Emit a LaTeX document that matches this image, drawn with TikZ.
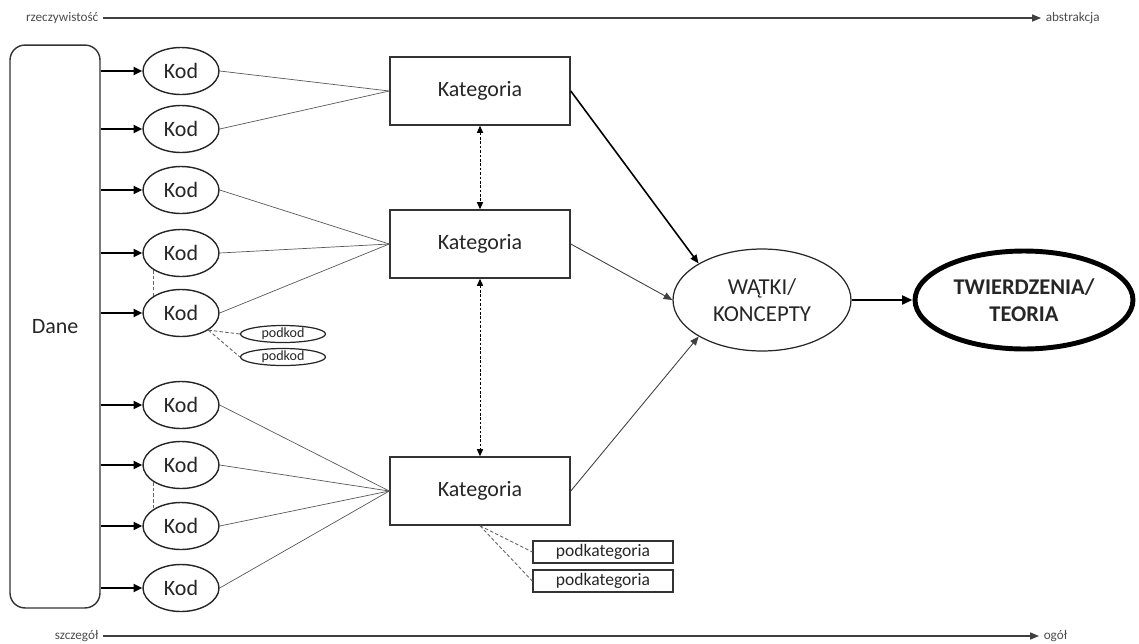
\documentclass[tikz,border=0pt]{standalone}
\usepackage{fontspec}
\setmainfont{Carlito}
\usetikzlibrary{arrows.meta,shapes.geometric}

\begin{document}
\begin{tikzpicture}
        [x=0.02cm,y=-0.02cm,
        every node/.style={inner sep=0pt,align=center,text=black!85,font=\fontsize{12.5}{14}\selectfont},
        dane-box/.style={draw=black!80,line width=0.8pt,rounded corners=0.3cm,minimum width=1.8cm,minimum height=11.26cm},
        kod-ellipse/.style={ellipse,draw=black!85,line width=0.8pt,minimum width=1.52cm,minimum height=0.94cm},
        podkod-ellipse/.style={ellipse,draw=black!85,line width=0.7pt,minimum width=1.7cm,minimum height=0.34cm,font=\fontsize{8}{9}\selectfont},
        kat-box/.style={rectangle,draw=black!80,line width=0.9pt,minimum width=3.6cm,minimum height=1.36cm},
        podkat-box/.style={rectangle,draw=black!80,line width=0.8pt,minimum width=2.8cm,minimum height=0.44cm,font=\fontsize{10}{11}\selectfont},
        watki-ellipse/.style={ellipse,draw=black!85,line width=0.7pt,minimum width=3.56cm,minimum height=2.04cm,font=\fontsize{13}{15.5}\selectfont},
        teoria-ellipse/.style={ellipse,draw=black,line width=2.8pt,minimum width=4.36cm,minimum height=1.96cm,font=\fontsize{12.8}{15.5}\selectfont\bfseries},
        axis-label/.style={inner sep=2.5pt,font=\fontsize{7.5}{8}\selectfont,text=black!70},
        axis-line/.style={line width=0.6pt,black!75,-{Triangle[length=5pt,width=4pt]}},
        data-arrow/.style={line width=1.3pt,-{Triangle[length=5pt,width=4.5pt]}},
        code-line/.style={line width=0.4pt,black!65},
        sub-line/.style={dash pattern=on 2pt off 1.2pt,line width=0.5pt,black!60},
        kat-link/.style={dash pattern=on 1.5pt off 1pt,line width=0.5pt,{Triangle[length=4pt,width=3.5pt]}-{Triangle[length=4pt,width=3.5pt]}},
        theme-arrow/.style={line width=0.5pt,black!75,-{Triangle[length=5pt,width=4pt]}},
        main-arrow/.style={line width=1.6pt,-{Triangle[length=6pt,width=5pt]}}
        ]
        \useasboundingbox (0,0) rectangle (1139,643);
        \node[axis-label,anchor=east] (real) at (103,18) {rzeczywistość};
        \node[axis-label,anchor=west] (abstr) at (1041,18) {abstrakcja};
        \node[axis-label,anchor=east] (detail) at (103,636) {szczegół};
        \node[axis-label,anchor=west] (general) at (1039,636) {ogół};
        \draw[axis-line] (real.east) -- (abstr.west);
        \draw[axis-line] (detail.east) -- (general.west);
        \node[dane-box] (dane) at (55,326.5) {Dane};
        \node[kod-ellipse] (kod-1) at (181,71) {Kod};
        \node[kod-ellipse] (kod-2) at (181,129) {Kod};
        \node[kod-ellipse] (kod-3) at (181,190) {Kod};
        \node[kod-ellipse] (kod-4) at (181,253) {Kod};
        \node[kod-ellipse] (kod-5) at (181,313) {Kod};
        \node[kod-ellipse] (kod-6) at (181,405) {Kod};
        \node[kod-ellipse] (kod-7) at (181,465) {Kod};
        \node[kod-ellipse] (kod-8) at (181,526) {Kod};
        \node[kod-ellipse] (kod-9) at (181,588) {Kod};
        \node[podkod-ellipse] (podkod-1) at (283,334) {podkod};
        \node[podkod-ellipse] (podkod-2) at (283,357) {podkod};
        \node[kat-box] (kat-1) at (480,91) {Kategoria};
        \node[kat-box] (kat-2) at (480,244) {Kategoria};
        \node[kat-box] (kat-3) at (480,491) {Kategoria};
        \node[podkat-box] (podkat-1) at (603,552) {podkategoria};
        \node[podkat-box] (podkat-2) at (603,581) {podkategoria};
        \node[watki-ellipse] (watki) at (762,300) {WĄTKI/\\KONCEPTY};
        \node[teoria-ellipse] (teoria) at (1024,300) {TWIERDZENIA/\\TEORIA};
        \draw[data-arrow] (dane.east |- kod-1) -- (kod-1.west);
        \draw[data-arrow] (dane.east |- kod-2) -- (kod-2.west);
        \draw[data-arrow] (dane.east |- kod-3) -- (kod-3.west);
        \draw[data-arrow] (dane.east |- kod-4) -- (kod-4.west);
        \draw[data-arrow] (dane.east |- kod-5) -- (kod-5.west);
        \draw[data-arrow] (dane.east |- kod-6) -- (kod-6.west);
        \draw[data-arrow] (dane.east |- kod-7) -- (kod-7.west);
        \draw[data-arrow] (dane.east |- kod-8) -- (kod-8.west);
        \draw[data-arrow] (dane.east |- kod-9) -- (kod-9.west);
        \draw[code-line] (kod-1.east) -- (kat-1.west);
        \draw[code-line] (kod-2.east) -- (kat-1.west);
        \draw[code-line] (kod-3.east) -- (kat-2.west);
        \draw[code-line] (kod-4.east) -- (kat-2.west);
        \draw[code-line] (kod-5.east) -- (kat-2.west);
        \draw[code-line] (kod-6.east) -- (kat-3.west);
        \draw[code-line] (kod-7.east) -- (kat-3.west);
        \draw[code-line] (kod-8.east) -- (kat-3.west);
        \draw[code-line] (kod-9.east) -- (kat-3.west);
        \draw[sub-line] (kod-4.south west) -- (kod-5.north west);
        \draw[sub-line] (kod-7.south west) -- (kod-8.north west);
        \draw[sub-line] (kod-5.south east) -- (podkod-1.west);
        \draw[sub-line] (kod-5.south east) -- (podkod-2.west);
        \draw[sub-line] (kat-3.south) -- (podkat-1.west);
        \draw[sub-line] (kat-3.south) -- (podkat-2.west);
        \draw[kat-link] (kat-1.south) -- (kat-2.north);
        \draw[kat-link] (kat-2.south) -- (kat-3.north);
        \draw[theme-arrow,line width=0.9pt,black] (kat-1.east) -- (watki.north west);
        \draw[theme-arrow] (kat-2.east) -- (watki.west);
        \draw[theme-arrow] (kat-3.east) -- (watki.south west);
        \draw[main-arrow] (watki.east) -- (teoria.west);
    \end{tikzpicture}
\end{document}
